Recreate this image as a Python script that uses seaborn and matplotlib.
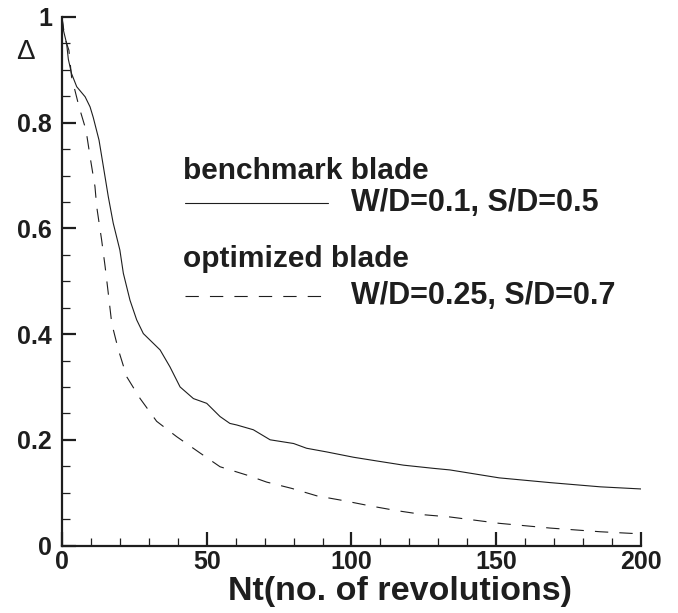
import matplotlib
matplotlib.use("Agg")
import matplotlib.pyplot as plt
from matplotlib.ticker import MultipleLocator, FixedLocator, FixedFormatter
import seaborn as sns
import pandas as pd

# Decay of Delta with number of revolutions
bench_nt = [0, 0.5, 1.6, 2.2, 3.3, 5.1, 8.0, 9.7, 10.8, 12.8, 14.3, 16.0, 17.7,
            20.0, 21.2, 23.5, 25.8, 28.1, 33.9, 37.3, 40.8, 45.4, 50.0, 54.6,
            58.0, 60.4, 66.1, 71.9, 80.0, 84.5, 91.5, 100.7, 108.7, 118.0,
            128.3, 134, 151, 168.6, 186, 200]
bench_delta = [1.0, 0.975, 0.95, 0.92, 0.893, 0.868, 0.849, 0.83, 0.81, 0.767,
               0.717, 0.66, 0.61, 0.559, 0.515, 0.464, 0.427, 0.401, 0.37,
               0.338, 0.30, 0.278, 0.269, 0.244, 0.231, 0.228, 0.219, 0.20,
               0.193, 0.184, 0.177, 0.167, 0.16, 0.152, 0.146, 0.143, 0.128,
               0.119, 0.111, 0.107]

opt_nt = [0, 1.0, 2.4, 3.3, 5.9, 8.3, 9.9, 11.4, 12.0, 13.7, 14.9, 16.0, 17.2,
          19.5, 22.4, 27.0, 32.7, 39.6, 47.7, 54.6, 64, 70.7, 79.4, 88, 97.2,
          106.4, 115.6, 125.4, 134, 151, 168.6, 186, 200]
opt_delta = [1.0, 0.96, 0.937, 0.887, 0.83, 0.786, 0.729, 0.679, 0.641, 0.578,
             0.528, 0.477, 0.42, 0.37, 0.319, 0.278, 0.235, 0.206, 0.175,
             0.149, 0.133, 0.12, 0.108, 0.094, 0.085, 0.075, 0.066, 0.058,
             0.054, 0.042, 0.033, 0.026, 0.022]

series_titles = ["benchmark blade", "optimized blade"]
series_params = ["W/D=0.1, S/D=0.5", "W/D=0.25, S/D=0.7"]

x_ticks = [0, 50, 100, 150, 200]
x_ticklabels = ["0", "50", "100", "150", "200"]
y_ticks = [0, 0.2, 0.4, 0.6, 0.8, 1.0]
y_ticklabels = ["0", "0.2", "0.4", "0.6", "0.8", "1"]

sns.set_theme(style="ticks")
plt.rcParams["font.family"] = ["Liberation Sans", "DejaVu Sans"]

ink = "#1e1e1e"
fig = plt.figure(figsize=(6.78, 6.13), dpi=100)
ax = fig.add_axes([0.0914, 0.1101, 0.8540, 0.8622])

df_b = pd.DataFrame({"Nt": bench_nt, "Delta": bench_delta})
df_o = pd.DataFrame({"Nt": opt_nt, "Delta": opt_delta})
sns.lineplot(data=df_b, x="Nt", y="Delta", ax=ax, color=ink, lw=0.8,
             sort=False, estimator=None)
sns.lineplot(data=df_o, x="Nt", y="Delta", ax=ax, color=ink, lw=0.8,
             sort=False, estimator=None, dashes=False)
ax.lines[1].set_dashes((12, 10))

ax.set_xlim(0, 200)
ax.set_ylim(0, 1)
sns.despine(ax=ax)
for side in ("left", "bottom"):
    ax.spines[side].set_linewidth(1.6)
    ax.spines[side].set_color(ink)

ax.xaxis.set_major_locator(FixedLocator(x_ticks))
ax.xaxis.set_major_formatter(FixedFormatter(x_ticklabels))
ax.yaxis.set_major_locator(FixedLocator(y_ticks))
ax.yaxis.set_major_formatter(FixedFormatter(y_ticklabels))
ax.xaxis.set_minor_locator(MultipleLocator(10))
ax.yaxis.set_minor_locator(MultipleLocator(0.05))
ax.tick_params(which="major", direction="in", length=10, width=1.6,
               color=ink, labelsize=18, labelcolor=ink)
ax.tick_params(which="minor", direction="in", length=6, width=0.9, color=ink)
ax.tick_params(axis="x", which="major", pad=3)
ax.tick_params(axis="y", which="major", pad=7)
for lbl in ax.get_xticklabels() + ax.get_yticklabels():
    lbl.set_fontweight("bold")

ax.set_xlabel("Nt(no. of revolutions)", fontsize=24.5, fontweight="bold",
              color=ink)
ax.xaxis.set_label_coords(0.584, -0.057)
ax.xaxis.label.set_va("top")
ax.set_ylabel("")
ax.text(-0.063, 0.933, "\u0394", transform=ax.transAxes, fontsize=20,
        color=ink, ha="center", va="center")

# Legend drawn as titled entries with line samples
styles = [dict(ls="-"), dict(dashes=(12, 10))]
title_y = [0.709, 0.542]
entry_y = [0.648, 0.472]
for title, params, ty, ey, st in zip(series_titles, series_params,
                                     title_y, entry_y, styles):
    ax.text(0.209, ty, title, transform=ax.transAxes, fontsize=21.5,
            fontweight="bold", color=ink, va="center", ha="left")
    ax.plot([0.213, 0.459], [ey, ey], transform=ax.transAxes, color=ink,
            lw=0.8, **st)
    ax.text(0.499, ey, params, transform=ax.transAxes, fontsize=22,
            fontweight="bold", color=ink, va="center", ha="left")

fig.savefig("out.png", dpi=100)
